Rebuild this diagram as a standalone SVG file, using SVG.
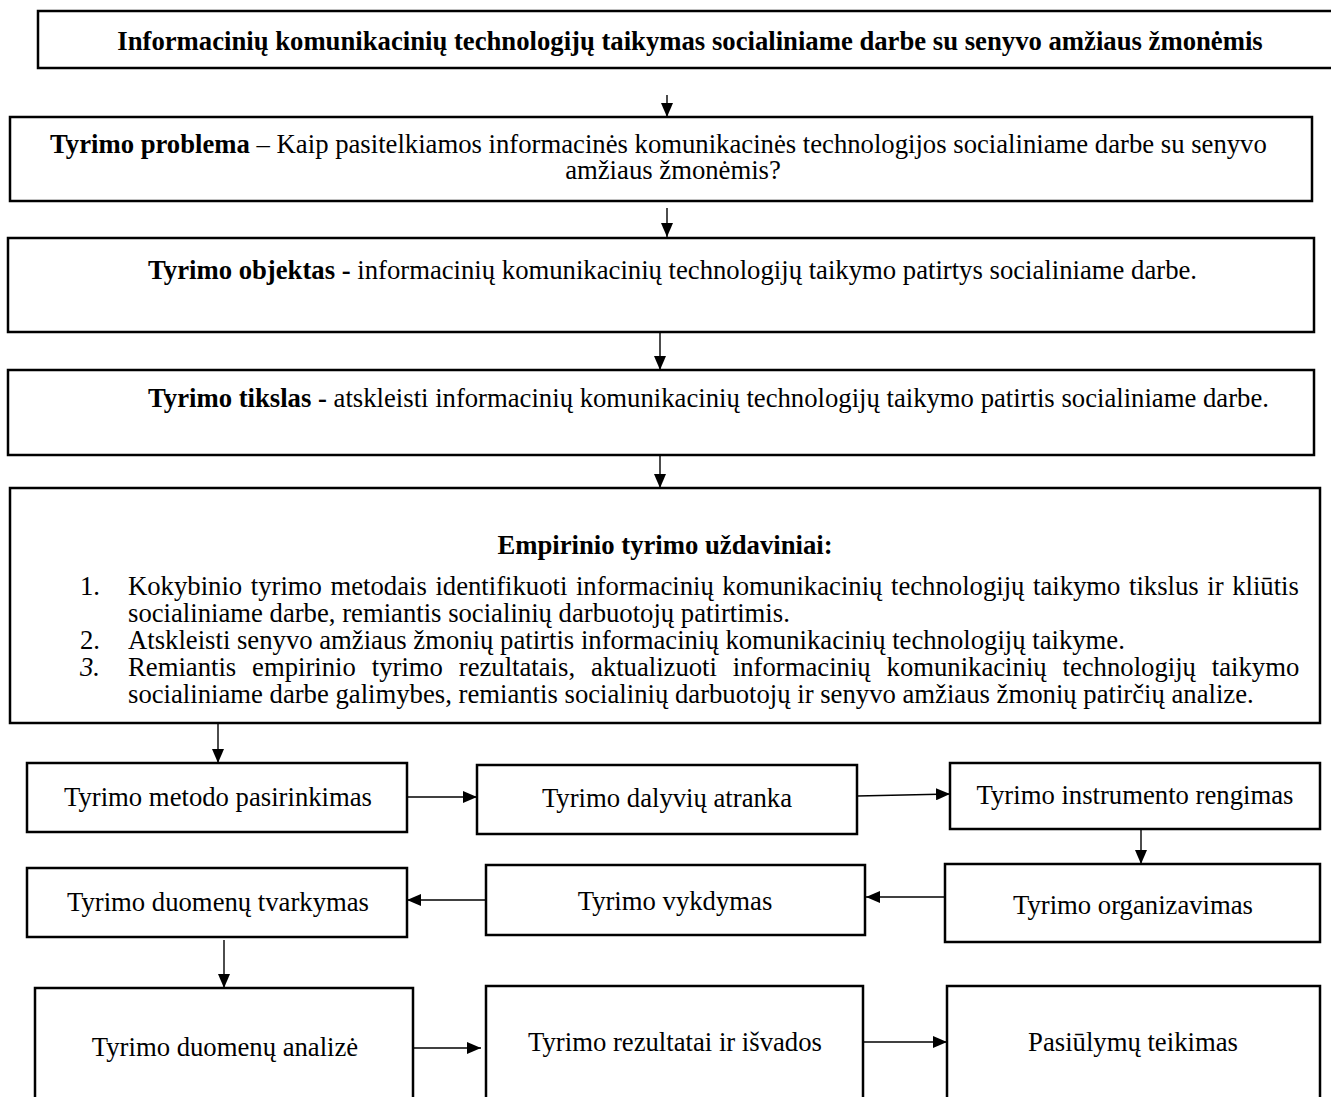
<svg xmlns="http://www.w3.org/2000/svg" width="1331" height="1097" viewBox="0 0 1331 1097">
<style>
.box{fill:#fff;stroke:#000;stroke-width:2.5}
.t{font-family:"Liberation Serif","Times New Roman",serif;font-size:26.7px;fill:#000}
.b{font-weight:bold}
.c{text-anchor:middle}
.ln{stroke:#000;stroke-width:1.4;fill:none;marker-end:url(#ah)}
</style>
<defs>
<marker id="ah" markerUnits="userSpaceOnUse" markerWidth="15" markerHeight="12" refX="14" refY="6" orient="auto">
<path d="M0,0 L14,6 L0,12 z" fill="#000"/>
</marker>
</defs>
<rect width="1331" height="1097" fill="#fff"/>
<g id="connectors">
<line class="ln" x1="667" y1="95" x2="667" y2="117"/>
<line class="ln" x1="667" y1="208" x2="667" y2="237"/>
<line class="ln" x1="660" y1="332" x2="660" y2="370"/>
<line class="ln" x1="660" y1="455" x2="660" y2="488"/>
<line class="ln" x1="218" y1="723" x2="218" y2="763"/>
<line class="ln" x1="403" y1="797" x2="477" y2="797"/>
<line class="ln" x1="857" y1="796" x2="950" y2="794"/>
<line class="ln" x1="1141" y1="829" x2="1141" y2="864"/>
<line class="ln" x1="945" y1="897" x2="866" y2="897"/>
<line class="ln" x1="486" y1="900" x2="407" y2="900"/>
<line class="ln" x1="224" y1="940" x2="224" y2="988"/>
<line class="ln" x1="408" y1="1048" x2="481" y2="1048"/>
<line class="ln" x1="863" y1="1042" x2="947" y2="1042"/>
</g>
<g id="title">
<rect class="box" x="38" y="11" width="1310" height="57"/>
<text class="t b c" x="690" y="50">Informacinių komunikacinių technologijų taikymas socialiniame darbe su senyvo amžiaus žmonėmis</text>
</g>
<g id="problema">
<rect class="box" x="10" y="117" width="1302" height="84"/>
<text class="t" x="50" y="153"><tspan class="b">Tyrimo problema</tspan> – Kaip pasitelkiamos informacinės komunikacinės  technologijos socialiniame darbe su senyvo</text>
<text class="t c" x="673" y="179">amžiaus žmonėmis?</text>
</g>
<g id="objektas">
<rect class="box" x="8" y="238" width="1306" height="94"/>
<text class="t" x="148" y="279"><tspan class="b">Tyrimo objektas -</tspan> informacinių komunikacinių technologijų taikymo patirtys socialiniame darbe.</text>
</g>
<g id="tikslas">
<rect class="box" x="8" y="370" width="1306" height="85"/>
<text class="t" x="148" y="407"><tspan class="b">Tyrimo tikslas -</tspan> atskleisti informacinių komunikacinių technologijų taikymo patirtis socialiniame darbe.</text>
</g>
<g id="uzdaviniai">
<rect class="box" x="10" y="488" width="1310" height="235" stroke-width="3"/>
<text class="t b c" x="665" y="554">Empirinio tyrimo uždaviniai:</text>
<text class="t" x="80" y="595">1.</text>
<text class="t" x="128" y="595" word-spacing="1.9">Kokybinio tyrimo metodais identifikuoti informacinių komunikacinių technologijų taikymo tikslus ir kliūtis</text>
<text class="t" x="128" y="622">socialiniame darbe, remiantis socialinių darbuotojų patirtimis.</text>
<text class="t" x="80" y="649">2.</text>
<text class="t" x="128" y="649">Atskleisti senyvo amžiaus žmonių patirtis informacinių komunikacinių technologijų taikyme.</text>
<text class="t" x="80" y="676" font-style="italic">3.</text>
<text class="t" x="128" y="676" word-spacing="9.2">Remiantis empirinio tyrimo rezultatais, aktualizuoti informacinių komunikacinių technologijų taikymo</text>
<text class="t" x="128" y="703">socialiniame darbe galimybes, remiantis socialinių darbuotojų ir senyvo amžiaus žmonių patirčių analize.</text>
</g>
<g id="metodas">
<rect class="box" x="27" y="763" width="380" height="69"/>
<text class="t c" x="218" y="806">Tyrimo metodo pasirinkimas</text>
</g>
<g id="atranka">
<rect class="box" x="477" y="765" width="380" height="69"/>
<text class="t c" x="667" y="807">Tyrimo dalyvių atranka</text>
</g>
<g id="instrumentas">
<rect class="box" x="950" y="763" width="370" height="66"/>
<text class="t c" x="1135" y="804">Tyrimo instrumento rengimas</text>
</g>
<g id="organizavimas">
<rect class="box" x="945" y="864" width="375" height="78"/>
<text class="t c" x="1133" y="914">Tyrimo organizavimas</text>
</g>
<g id="vykdymas">
<rect class="box" x="486" y="865" width="379" height="70"/>
<text class="t c" x="675" y="910">Tyrimo vykdymas</text>
</g>
<g id="tvarkymas">
<rect class="box" x="27" y="868" width="380" height="69"/>
<text class="t c" x="218" y="911">Tyrimo duomenų tvarkymas</text>
</g>
<g id="analize">
<rect class="box" x="35" y="988" width="378" height="130"/>
<text class="t c" x="225" y="1056">Tyrimo duomenų analizė</text>
</g>
<g id="rezultatai">
<rect class="box" x="486" y="986" width="377" height="130"/>
<text class="t c" x="675" y="1051">Tyrimo rezultatai ir išvados</text>
</g>
<g id="pasiulymai">
<rect class="box" x="947" y="986" width="373" height="130"/>
<text class="t c" x="1133" y="1051">Pasiūlymų teikimas</text>
</g>
</svg>
